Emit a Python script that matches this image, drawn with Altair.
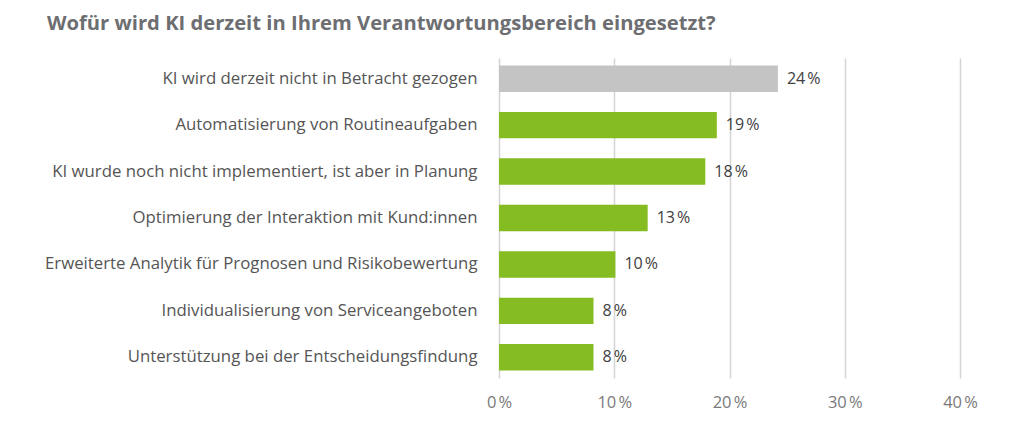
import altair as alt
import pandas as pd

categories = [
    "KI wird derzeit nicht in Betracht gezogen",
    "Automatisierung von Routineaufgaben",
    "KI wurde noch nicht implementiert, ist aber in Planung",
    "Optimierung der Interaktion mit Kund:innen",
    "Erweiterte Analytik für Prognosen und Risikobewertung",
    "Individualisierung von Serviceangeboten",
    "Unterstützung bei der Entscheidungsfindung",
]
values = [24.2, 18.9, 17.9, 12.9, 10.1, 8.2, 8.2]
value_labels = ["24\u202f%", "19\u202f%", "18\u202f%", "13\u202f%", "10\u202f%", "8\u202f%", "8\u202f%"]
groups = ["none", "use", "use", "use", "use", "use", "use"]
x_ticks = [0, 10, 20, 30, 40]

df = pd.DataFrame({"cat": categories, "val": values, "lab": value_labels, "grp": groups})

FONT = "Open Sans"

y_enc = alt.Y(
    "cat:N",
    sort=categories,
    title=None,
    scale=alt.Scale(paddingInner=0.43, paddingOuter=0.16),
    axis=alt.Axis(
        labelFont=FONT, labelFontSize=16.8, labelColor="#555555",
        labelPadding=22, domain=False, ticks=False, grid=False, labelLimit=500,
    ),
)

bars = alt.Chart(df).mark_bar().encode(
    x=alt.X(
        "val:Q",
        title=None,
        scale=alt.Scale(domain=[0, 40], nice=False),
        axis=alt.Axis(
            values=x_ticks,
            labelExpr="datum.value + '\u202f%'",
            labelFont=FONT, labelFontSize=16.5, labelColor="#7a7a7a",
            labelPadding=16, labelFlush=False, domain=False, ticks=False,
            grid=True, gridColor="#d4d4d4", gridWidth=1.5,
        ),
    ),
    y=y_enc,
    color=alt.Color(
        "grp:N",
        scale=alt.Scale(domain=["none", "use"], range=["#c4c4c4", "#85bc22"]),
        legend=None,
    ),
)

text = alt.Chart(df).mark_text(
    align="left", baseline="middle", dx=9, font=FONT, fontSize=16, color="#404040"
).encode(
    x="val:Q",
    y=alt.Y("cat:N", sort=categories),
    text="lab:N",
)

chart = (
    alt.layer(bars, text)
    .properties(
        width=461,
        height=320,
        autosize=alt.AutoSizeParams(type="none"),
        padding={"left": 491, "top": 50, "right": 40, "bottom": 40},
        title=alt.Title(
            "Wofür wird KI derzeit in Ihrem Verantwortungsbereich eingesetzt?",
            anchor="start",
            frame="group",
            font=FONT,
            fontSize=20.2,
            fontWeight="bold",
            color="#6d6e71",
            dx=-452,
            offset=24,
        ),
    )
    .configure_view(stroke=None)
)

chart.save("out.html", embed_options={"renderer": "svg", "actions": False})
